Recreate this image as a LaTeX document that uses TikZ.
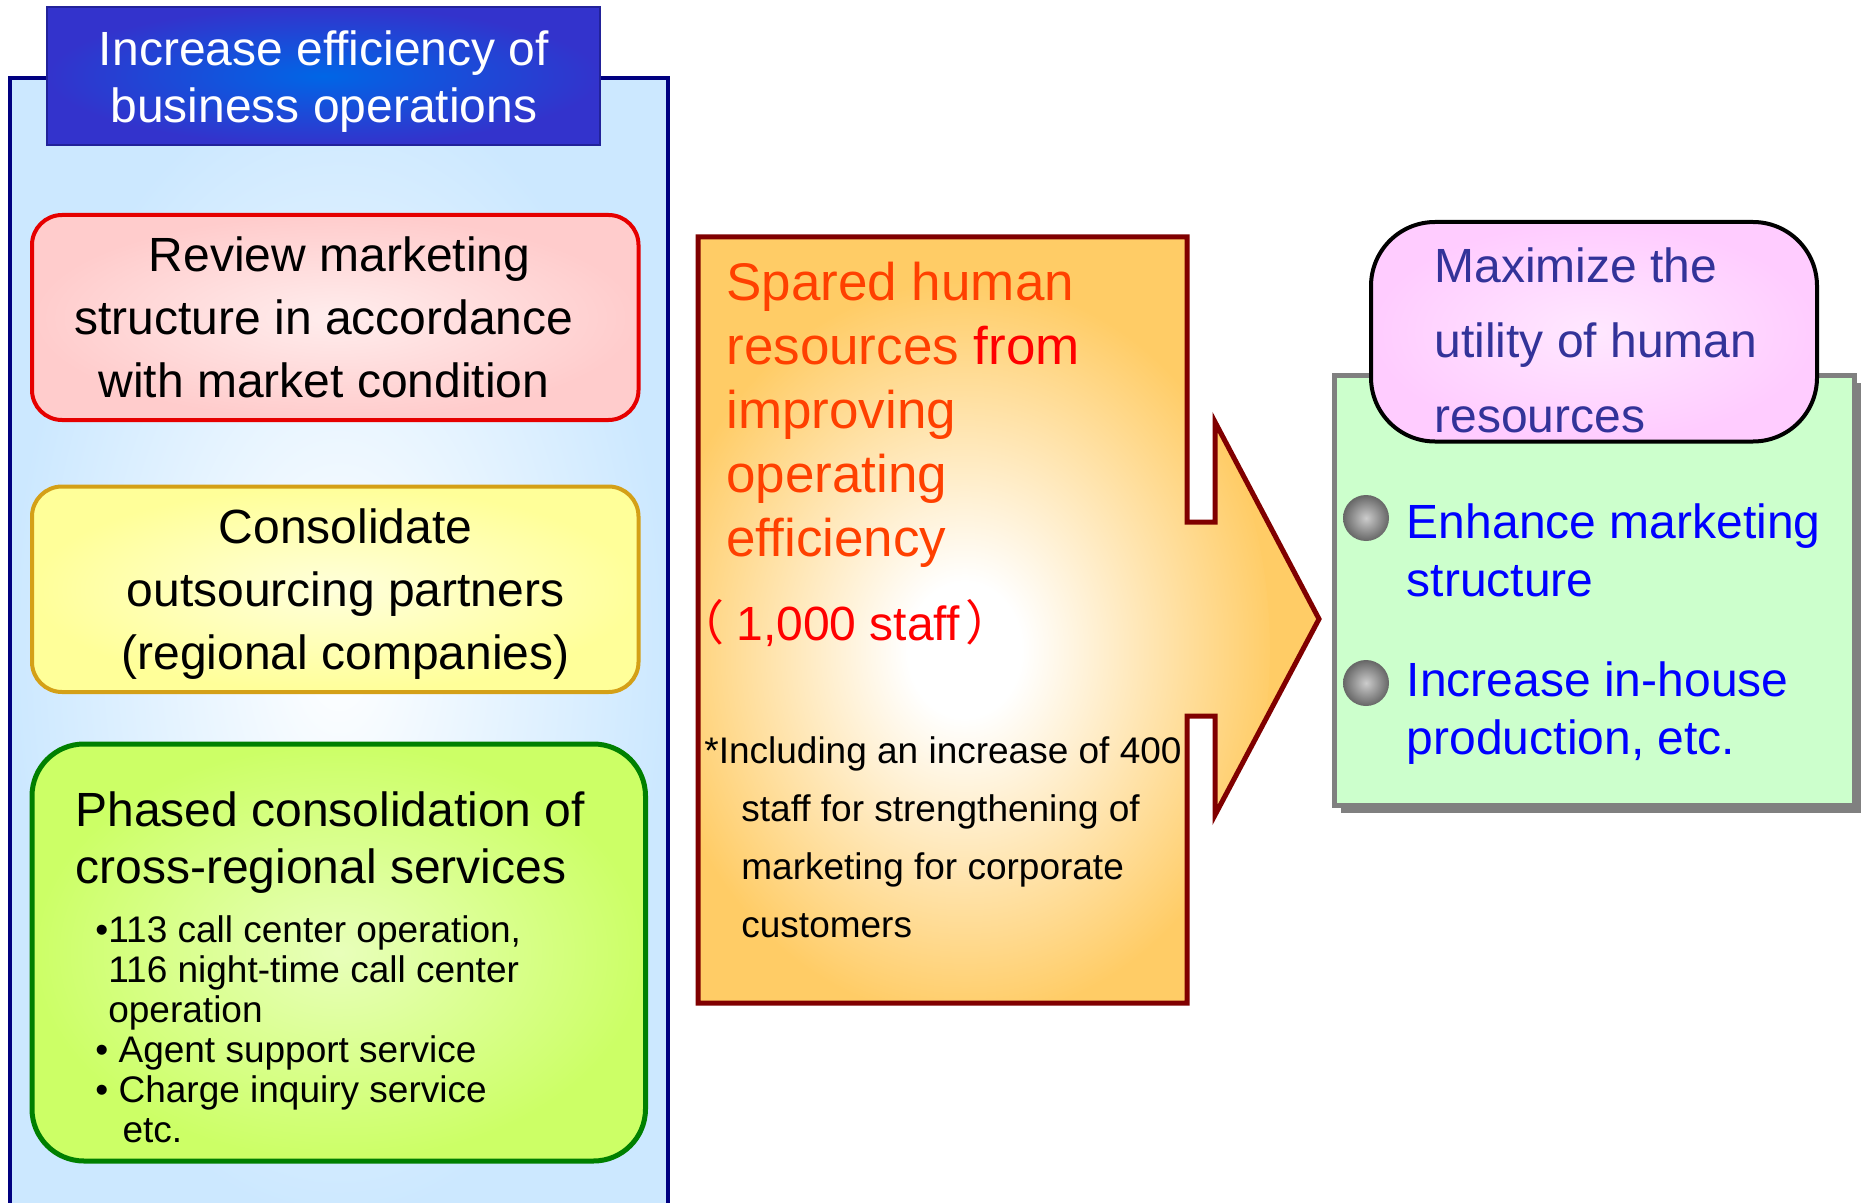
\documentclass[tikz,border=0pt]{standalone}
\usepackage{fontspec}
\setmainfont{Liberation Sans}
\newfontfamily\cjkfont{Noto Sans CJK JP}

\definecolor{panelline}{HTML}{000080}
\definecolor{panelblue}{HTML}{CCE8FF}
\definecolor{headline}{HTML}{22229A}
\definecolor{headouter}{HTML}{3333CC}
\definecolor{headinner}{HTML}{0066E6}
\definecolor{redline}{HTML}{E60000}
\definecolor{redfill}{HTML}{FFCCCC}
\definecolor{yellowline}{HTML}{D4A017}
\definecolor{yellowfill}{HTML}{FFFF99}
\definecolor{greenline}{HTML}{008000}
\definecolor{greenfill}{HTML}{CCFF66}
\definecolor{orangeline}{HTML}{800000}
\definecolor{orangefill}{HTML}{FFCC66}
\definecolor{sparedorange}{HTML}{FF4000}
\definecolor{staffred}{HTML}{FF0000}
\definecolor{mintfill}{HTML}{CCFFCC}
\definecolor{mintline}{HTML}{808080}
\definecolor{pinkfill}{HTML}{FFCCFF}
\definecolor{navytext}{HTML}{333399}
\definecolor{bluetext}{HTML}{0000FF}

% white glow inside the arrow box, and the grey bullet balls
\pgfdeclareradialshading{glow}{\pgfpoint{0bp}{0bp}}{color(0bp)=(white); color(4bp)=(white); color(22bp)=(orangefill); color(50bp)=(orangefill)}
\pgfdeclareradialshading{knob}{\pgfpoint{0bp}{0bp}}{color(0bp)=(black!20); color(25bp)=(black!60); color(50bp)=(black!60)}

\newcommand\boxfont{\fontsize{24}{31.5}\selectfont}
\newcommand\headfont{\fontsize{24}{28.5}\selectfont}
\newcommand\listfont{\fontsize{18.5}{20}\selectfont}
\newcommand\sparedfont{\fontsize{26.5}{32}\selectfont}
\newcommand\notefont{\fontsize{18.5}{29}\selectfont}
\newcommand\sidefont{\fontsize{24}{29}\selectfont}
\newcommand\pinkfont{\fontsize{24}{37.5}\selectfont}

\tikzset{
  panel/.style={draw=panelline, line width=2pt, inner color=white, outer color=panelblue},
  headbox/.style={draw=headline, line width=1pt, inner color=headinner, outer color=headouter},
  reviewbox/.style={draw=redline, line width=2pt, rounded corners=15pt, inner color=redfill!35, outer color=redfill},
  partnerbox/.style={draw=yellowline, line width=2pt, rounded corners=15pt, inner color=yellowfill!35, outer color=yellowfill},
  phasedbox/.style={draw=greenline, line width=2.5pt, rounded corners=26pt, inner color=greenfill!45, outer color=greenfill},
  boxtext/.style={inner sep=0pt, font=\boxfont, align=center},
  sparebox/.style={draw=orangeline, line width=2.5pt, fill=orangefill,
    path picture={\shade[shading=glow] (940,650) ellipse [x radius=165pt, y radius=210pt];}},
  usebox/.style={draw=mintline, line width=2.5pt, fill=mintfill},
  aimbox/.style={draw=black, line width=2pt, rounded corners=32pt, inner color=pinkfill!45, outer color=pinkfill},
  bulletdot/.style={circle, minimum size=23pt, inner sep=0pt, shade, shading=knob},
  sidetext/.style={inner sep=0pt, anchor=west, align=left, font=\sidefont, text=bluetext}
}

\begin{document}
\begin{tikzpicture}[x=0.5pt, y=-0.5pt]
  \useasboundingbox (0,0) rectangle (1861,1203);

  % left column: panel, title tab and the three measures
  \path[panel] (9.5,78) rectangle (668,1220);
  \path[headbox] (47,7) rectangle (600,145);
  \node[inner sep=0pt, align=center, font=\headfont, text=white] (goal) at (324,82)
    {Increase efficiency of\\business operations};

  \path[reviewbox] (32,215) rectangle (638.5,420);
  \node[boxtext] (review) at (324,317)
    {\hspace*{0.65em}Review marketing\\structure in accordance\\with market condition};

  \path[partnerbox] (32,486.5) rectangle (638.5,692);
  \node[boxtext] (partners) at (345.5,594)
    {Consolidate\\outsourcing partners\\(regional companies)};

  \path[phasedbox] (32,744) rectangle (645.5,1161);
  \node[inner sep=0pt, anchor=west, align=left, font=\headfont] (phased) at (75,842.5)
    {Phased consolidation of\\cross-regional services};
  \node[inner sep=0pt, anchor=west, align=left, font=\listfont] (services) at (95,1029)
    {\textbullet113 call center operation,\\
     \phantom{\textbullet}116 night-time call center\\
     \phantom{\textbullet}operation\\
     \textbullet\ Agent support service\\
     \textbullet\ Charge inquiry service\\
     \phantom{\textbullet\ }\hspace{2pt}etc.};

  % middle: box running into the arrow head
  \path[sparebox] (698,237) -- (1187,237) -- (1187,522) -- (1215,522) -- (1215,422)
    -- (1319,619) -- (1215,815) -- (1215,716) -- (1187,716) -- (1187,1003)
    -- (698,1003) -- cycle;
  \node[inner sep=0pt, anchor=west, align=left, font=\sparedfont, text=sparedorange] (spared) at (726,414.5)
    {Spared human\\resources {\color{staffred}from}\\improving\\operating\\efficiency};
  \node[inner sep=0pt, anchor=west, font=\boxfont, text=staffred] (staff) at (676,623)
    {{\cjkfont （}\hspace{6pt}1,000 staff\hspace{3pt}{\cjkfont ）}};
  \node[inner sep=0pt, anchor=west, align=left, font=\notefont] (note) at (704,837)
    {*Including an increase of 400\\
     \hspace*{1em}staff for strengthening of\\
     \hspace*{1em}marketing for corporate\\
     \hspace*{1em}customers};

  % right: outcome box with shadow and rounded title
  \fill[black!50] (1341,383) rectangle (1861,813);
  \path[usebox] (1334,375) rectangle (1854,805);
  \path[aimbox] (1371,222) rectangle (1817,441.5);
  \node[inner sep=0pt, anchor=west, align=left, font=\pinkfont, text=navytext] (aim) at (1434,340)
    {Maximize the\\utility of human\\resources};

  \node[bulletdot] (dotA) at (1366,518) {};
  \node[sidetext] (enhance) at (1406.5,550) {Enhance marketing\\structure};
  \node[bulletdot] (dotB) at (1366,683) {};
  \node[sidetext] (inhouse) at (1406.5,713) {Increase in-house\\production, etc.};
\end{tikzpicture}
\end{document}
